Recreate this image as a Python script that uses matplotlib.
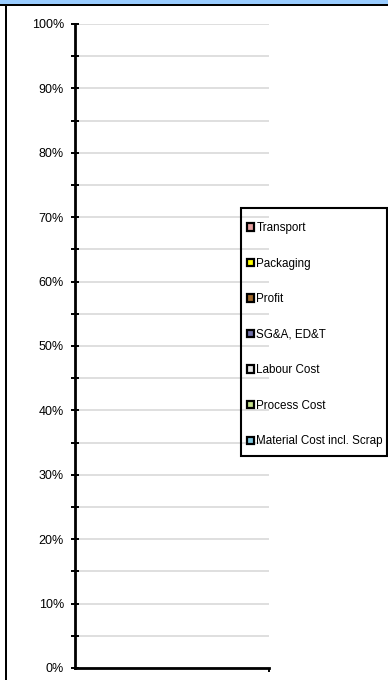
import matplotlib
matplotlib.use("Agg")
import matplotlib.pyplot as plt
from matplotlib.patches import Rectangle
import numpy as np

plt.rcParams['font.family'] = ['Liberation Sans', 'DejaVu Sans']

# data: one (empty) stacked column, bottom-to-top series order
categories = [""]
series = ["Material Cost incl. Scrap", "Process Cost", "Labour Cost",
          "SG&A, ED&T", "Profit", "Packaging", "Transport"]
values = {
    "Material Cost incl. Scrap": [0.0],
    "Process Cost": [0.0],
    "Labour Cost": [0.0],
    "SG&A, ED&T": [0.0],
    "Profit": [0.0],
    "Packaging": [0.0],
    "Transport": [0.0],
}
colors = ["#80c8e0", "#c4e08c", "#e6e6e6", "#7070a8", "#a0682a", "#ffff00", "#e6a0a0"]
yticks = np.arange(0, 101, 10)

W, H = 388, 680
fig = plt.figure(figsize=(W / 100, H / 100), dpi=100)
ax = fig.add_axes([75 / W, 1 - 668 / H, 194 / W, 644 / H])

x = np.arange(len(categories))
bottom = np.zeros(len(categories))
for name, c in zip(series, colors):
    v = np.array(values[name])
    ax.bar(x, v, bottom=bottom, width=0.6, color=c, edgecolor="none",
           linewidth=0, label=name)
    bottom += v

ax.set_xlim(-0.5, 0.5)
ax.set_ylim(0, 100)
ax.set_yticks(yticks)
ax.set_yticklabels([f"{t}%" for t in yticks], fontsize=9)
ax.set_yticks(np.arange(5, 100, 10), minor=True)
ax.yaxis.grid(True, which="both", color="#dcdcdc", linewidth=1.3)
ax.set_axisbelow(True)
ax.tick_params(axis="y", which="both", direction="inout", length=6, width=1.4,
               pad=5, colors="black")
ax.set_xticks([0.5])
ax.set_xticklabels([])
ax.tick_params(axis="x", direction="out", length=3, width=1.4)
for s in ["top", "right"]:
    ax.spines[s].set_visible(False)
for s in ["left", "bottom"]:
    ax.spines[s].set_linewidth(2)
ax.spines["left"].set_zorder(5)

h, l = ax.get_legend_handles_labels()
leg = ax.legend(h[::-1], l[::-1], loc="upper left",
                bbox_to_anchor=(247 / W, 1 - 222 / H), bbox_transform=fig.transFigure,
                fontsize=8.4, frameon=False,
                handlelength=0.6, handleheight=0.6, handletextpad=0.2,
                labelspacing=2.02, borderpad=0.0, borderaxespad=0)
for p in leg.legend_handles:
    p.set_edgecolor("black")
    p.set_linewidth(1.6)
for t in leg.get_texts():
    t.set_color("black")

# legend frame
fig.add_artist(Rectangle((241 / W, 1 - 456 / H), 146 / W, 248 / H,
                         transform=fig.transFigure, facecolor="none",
                         edgecolor="black", linewidth=1.5))

# frame decoration: blue header strip and left border
fig.add_artist(Rectangle((0, 1 - 4 / H), 1, 4 / H, transform=fig.transFigure,
                         facecolor="#99ccff", edgecolor="none"))
fig.add_artist(Rectangle((0, 1 - 6 / H), 1, 2.5 / H, transform=fig.transFigure,
                         facecolor="black", edgecolor="none"))
fig.add_artist(Rectangle((4.5 / W, 0), 2 / W, 1 - 4 / H, transform=fig.transFigure,
                         facecolor="black", edgecolor="none"))

fig.savefig("out.png", dpi=100)
